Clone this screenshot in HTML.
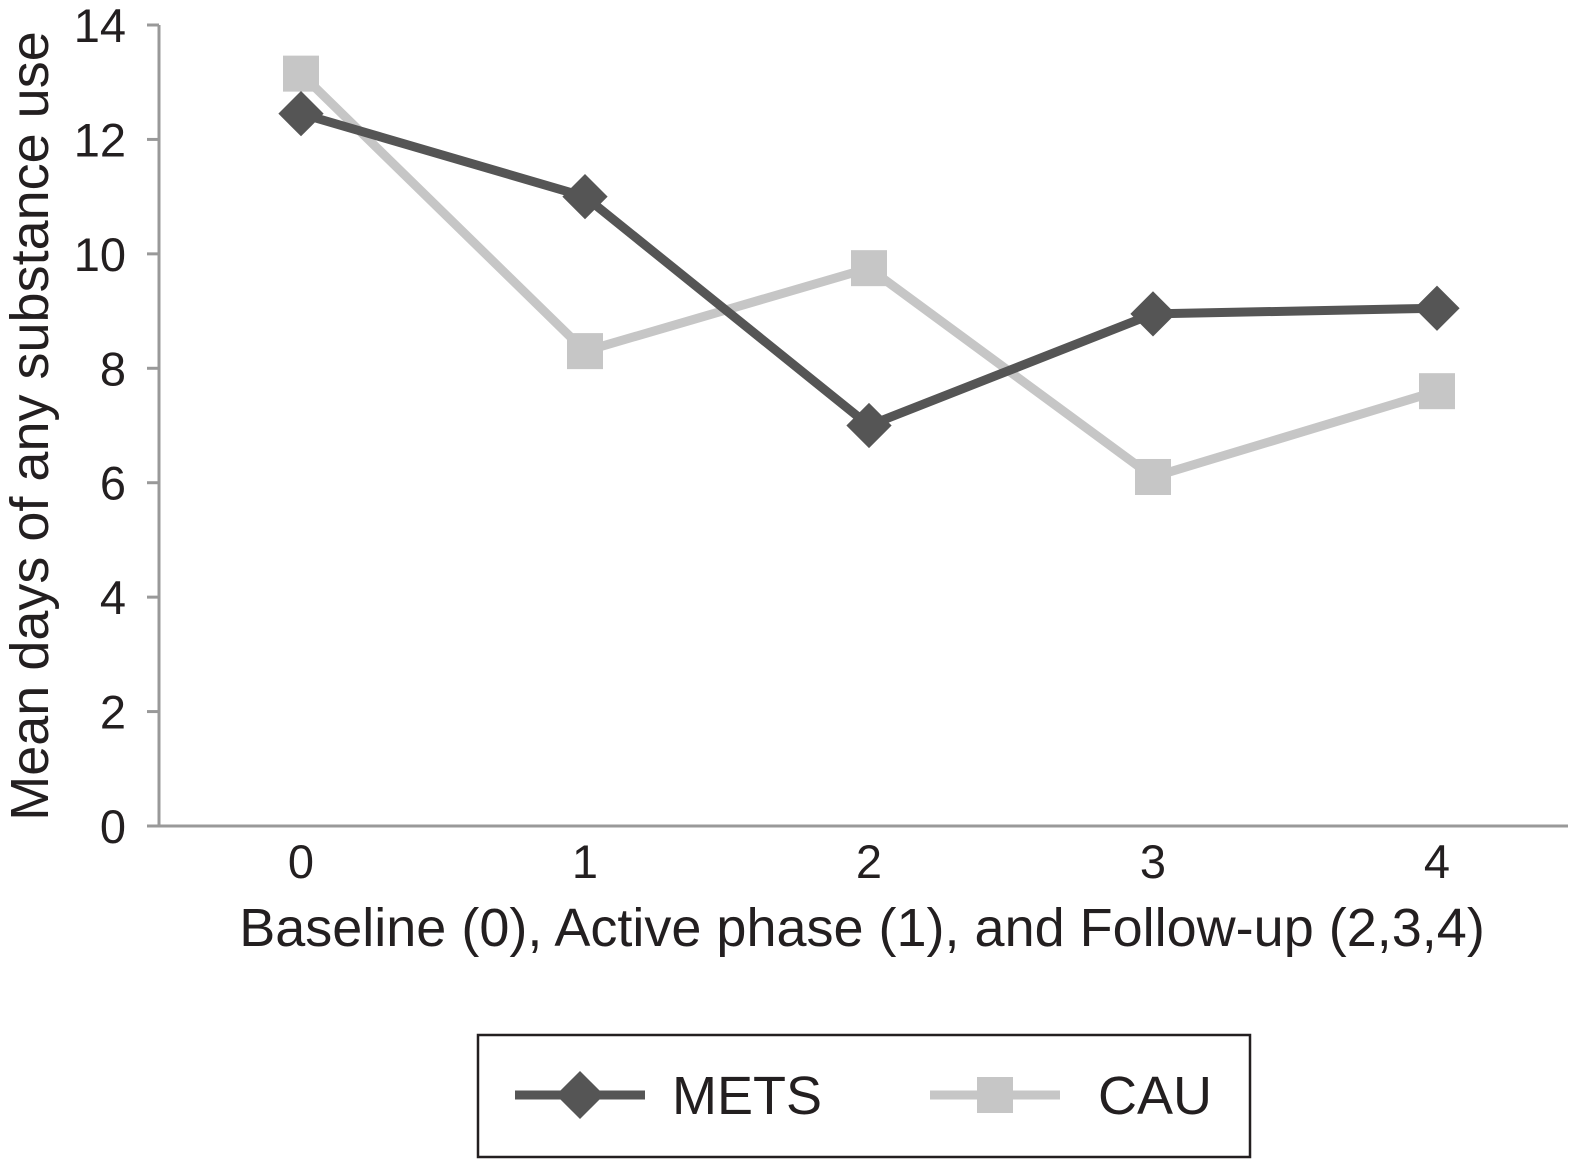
<!DOCTYPE html>
<html><head><meta charset="utf-8"><style>
html,body{margin:0;padding:0;background:#fff;}
svg{display:block;font-family:"Liberation Sans",sans-serif;}
</style></head><body>
<svg id="chart" width="1593" height="1176" viewBox="0 0 1593 1176" xmlns="http://www.w3.org/2000/svg">
<g id="axes"></g><g id="series"></g>
<text transform="translate(48,426) rotate(-90)" text-anchor="middle" font-size="54" fill="#231f20">Mean days of any substance use</text>
<text x="862" y="946" text-anchor="middle" font-size="54" fill="#231f20">Baseline (0), Active phase (1), and Follow-up (2,3,4)</text>
<g>
<rect x="478" y="1035" width="772" height="122" fill="none" stroke="#231f20" stroke-width="2.5"/>
<g>
<line x1="515" y1="1095" x2="645" y2="1095" stroke="#555" stroke-width="9"/>
<rect x="563" y="1078" width="34" height="34" fill="#555" transform="rotate(45 580 1095)"/>
<text x="672" y="1114" font-size="54" fill="#231f20">METS</text></g>
<g>
<line x1="930" y1="1095" x2="1060" y2="1095" stroke="#c6c6c6" stroke-width="9"/>
<rect x="977" y="1077" width="36" height="36" fill="#c6c6c6"/>
<text x="1098" y="1114" font-size="54" fill="#231f20">CAU</text></g>
</g>
</svg>
<script>
const categories=["0","1","2","3","4"];
const metsValues=[12.45,11.0,7.0,8.95,9.05];
const cauValues=[13.15,8.3,9.75,6.1,7.6];
const yTicks=[0,2,4,6,8,10,12,14];
const NS="http://www.w3.org/2000/svg";
const x0=159,band=284,yBase=826,yTop=25,yMax=14;
const xs=i=>x0+band*(i+0.5);
const ys=v=>yBase-(yBase-yTop)*v/yMax;
function mk(t,a,p){const e=document.createElementNS(NS,t);for(const k in a)e.setAttribute(k,a[k]);p.appendChild(e);return e;}
const ax=document.getElementById('axes');
let l=mk('line',{x1:x0,y1:yTop,x2:x0,y2:yBase,stroke:'#999','stroke-width':3},ax);


l=mk('line',{x1:147,y1:yBase,x2:1568,y2:yBase,stroke:'#999','stroke-width':3},ax);


yTicks.forEach(v=>{
 const t=mk('line',{x1:147,y1:ys(v),x2:x0,y2:ys(v),stroke:'#999','stroke-width':3},ax);
 
 
 const tx=mk('text',{x:126,y:ys(v)+17,'text-anchor':'end','font-size':47,fill:'#231f20'},ax);
 tx.textContent=v;
 
 
});
categories.forEach((c,i)=>{
 const tx=mk('text',{x:xs(i),y:878,'text-anchor':'middle','font-size':47,fill:'#231f20'},ax);
 tx.textContent=c;
 
 
});
const sg=document.getElementById('series');
function draw(vals,color,shape,name){
 const g=mk('g',{},sg);
 
 
 const pl=mk('polyline',{points:vals.map((v,i)=>xs(i)+','+ys(v)).join(' '),fill:'none',stroke:color,'stroke-width':9,'stroke-linejoin':'round'},g);
 
 
 vals.forEach((v,i)=>{
  let m;
  if(shape==='d') m=mk('rect',{x:xs(i)-16,y:ys(v)-16,width:32,height:32,fill:color,transform:`rotate(45 ${xs(i)} ${ys(v)})`},g);
  else m=mk('rect',{x:xs(i)-18,y:ys(v)-18,width:36,height:36,fill:color},g);
  
  
 });
}
draw(cauValues,'#c6c6c6','s','cau');
draw(metsValues,'#555555','d','mets');
</script>
</body></html>
